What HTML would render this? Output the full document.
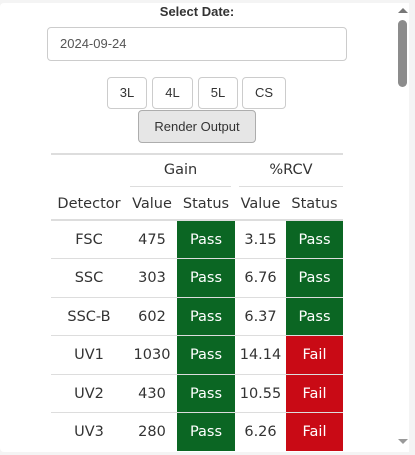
<!DOCTYPE html>
<html><head><meta charset="utf-8"><style>
html,body{margin:0;padding:0;width:415px;height:455px;overflow:hidden;background:#f4f4f4;font-family:"DejaVu Sans",sans-serif}
.card{position:absolute;left:0;top:3px;width:409px;height:449px;background:#fff;border-radius:4px}
.abs{position:absolute}
.title{left:0;width:394px;top:4px;text-align:center;font:bold 13px "Liberation Sans",sans-serif;color:#333}
.input{left:47px;top:27px;border:1px solid #ccc;border-radius:4px;font:13px "Liberation Sans",sans-serif;color:#555;line-height:32px;padding-left:12px;box-sizing:border-box;width:300px;height:34px}
.btn{top:77px;height:32px;border:1px solid #ccc;border-radius:4px;background:#fff;font:13px "Liberation Sans",sans-serif;color:#333;text-align:center;line-height:30px;box-sizing:border-box}
.render{left:138px;top:110px;width:118px;height:33px;background:#e6e6e6;border:1px solid #adadad;border-radius:4px;box-sizing:border-box;font:13px "Liberation Sans",sans-serif;color:#333;text-align:center;line-height:31px}
</style></head><body>
<div class="card"></div>
<div class="abs title">Select Date:</div>
<div class="abs input">2024-09-24</div>
<div class="abs btn" style="left:107px;width:40px">3L</div>
<div class="abs btn" style="left:152px;width:41px">4L</div>
<div class="abs btn" style="left:198px;width:40px">5L</div>
<div class="abs btn" style="left:242px;width:44px">CS</div>
<div class="abs render">Render Output</div>
<div class="abs" style="left:51px;top:153px;width:292px;height:2px;background:#ddd"></div>
<div class="abs" style="left:130px;top:160px;width:101px;text-align:center;font-size:14.5px;color:#333;line-height:20px">Gain</div>
<div class="abs" style="left:239px;top:160px;width:104px;text-align:center;font-size:14.5px;color:#333;line-height:20px">%RCV</div>
<div class="abs" style="left:130px;top:186px;width:101px;height:1px;background:#ddd"></div>
<div class="abs" style="left:239px;top:186px;width:104px;height:1px;background:#ddd"></div>
<div class="abs" style="left:51px;top:219px;width:292px;height:2px;background:#ddd"></div>
<div id="hdr"></div>
<div id="rows"></div>
<div class="abs" style="left:394px;top:3px;width:15px;height:449px;background:#fff"></div>
<div class="abs" style="left:398px;top:8px;width:0;height:0;border-left:5px solid transparent;border-right:5px solid transparent;border-bottom:5px solid #777"></div>
<div class="abs" style="left:398px;top:20px;width:9px;height:67px;background:#8c8c8c;border-radius:5px"></div>
<div class="abs" style="left:398px;top:439px;width:0;height:0;border-left:5px solid transparent;border-right:5px solid transparent;border-top:5px solid #999"></div>
<script>
const detectors=["FSC","SSC","SSC-B","UV1","UV2","UV3"];
const gainValues=["475","303","602","1030","430","280"];
const gainStatus=["Pass","Pass","Pass","Pass","Pass","Pass"];
const rcvValues=["3.15","6.76","6.37","14.14","10.55","6.26"];
const rcvStatus=["Pass","Pass","Pass","Fail","Fail","Fail"];
const cols=[[51,76],[127,50],[177,58],[235,51],[286,57]];
const hdrs=["Detector","Value","Status","Value","Status"];
const H=document.getElementById('hdr');
hdrs.forEach((t,i)=>{const d=document.createElement('div');


d.className='abs';d.style.cssText=`left:${cols[i][0]}px;width:${cols[i][1]}px;top:194px;text-align:center;font-size:14.5px;color:#333;line-height:20px`;d.textContent=t;H.appendChild(d);});
const R=document.getElementById('rows');
const top0=221,rh=38.4;
detectors.forEach((det,r)=>{
 const y=top0+r*rh;
 const vals=[det,gainValues[r],gainStatus[r],rcvValues[r],rcvStatus[r]];
 if(r>0){const l=document.createElement('div');l.className='abs';l.style.cssText=`left:51px;top:${y-1}px;width:292px;height:1px;background:#ddd`;R.appendChild(l);}
 vals.forEach((v,i)=>{const c=document.createElement('div');
 
 
 c.className='abs';
 let bg='transparent',col='#333';
 if(i==2||i==4){bg=v=='Pass'?'#0b6623':'#c90a15';col='#fff';}
 c.style.cssText=`left:${cols[i][0]}px;width:${cols[i][1]}px;top:${y}px;height:${rh}px;line-height:${rh}px;text-align:center;font-size:14.5px;background:${bg};color:${col}`;
 c.textContent=v;R.appendChild(c);});
});
</script>
</body></html>
